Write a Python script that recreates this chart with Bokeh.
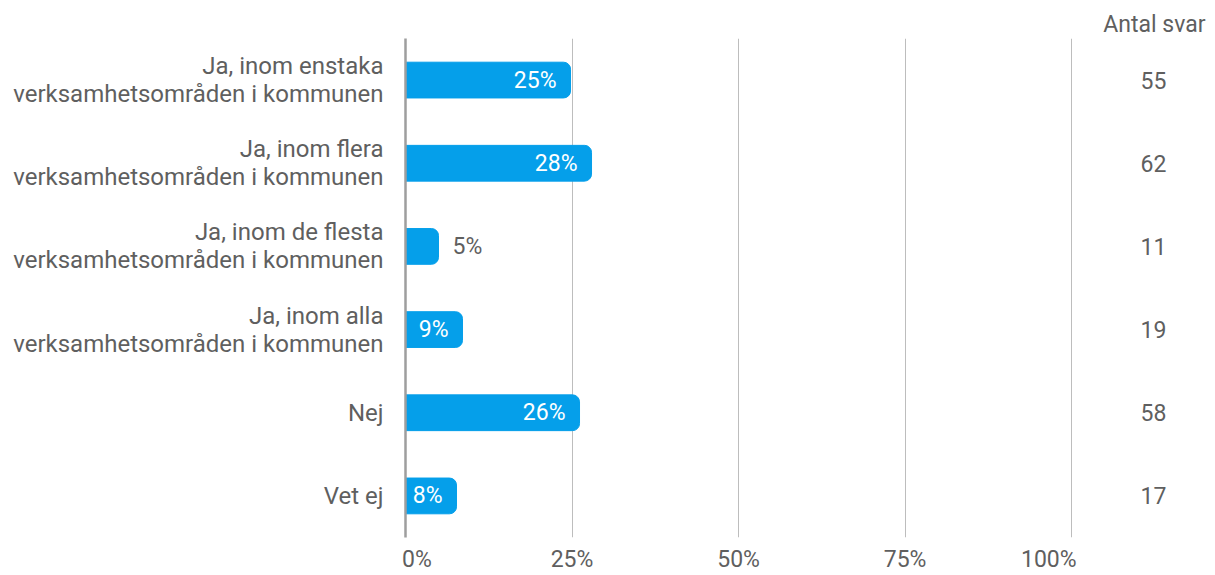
from bokeh.plotting import figure
from bokeh.models import ColumnDataSource, FixedTicker
from bokeh.core.properties import value
from bokeh.embed import file_html
from bokeh.resources import INLINE

categories = [
    "Ja, inom enstaka\nverksamhetsområden i kommunen",
    "Ja, inom flera\nverksamhetsområden i kommunen",
    "Ja, inom de flesta\nverksamhetsområden i kommunen",
    "Ja, inom alla\nverksamhetsområden i kommunen",
    "Nej",
    "Vet ej",
]
counts = [55, 62, 11, 19, 58, 17]
x_ticks = [0, 25, 50, 75, 100]
x_tick_labels = ["\u00a0\u00a0\u00a0\u00a00%", "25%", "50%", "75%",
                 "100%\u00a0\u00a0\u00a0\u00a0\u00a0\u00a0\u00a0\u00a0"]
count_header = "Antal svar"

total = sum(counts)
pct = [c / total * 100 for c in counts]
ys = list(range(len(categories)))
labels = [f"{round(v)}%" for v in pct]
inside = [v >= 7 for v in pct]

FONT = "Roboto"
FS = "23px"
TXT = "#5f5f5f"
BAR = "#059FEA"

p = figure(width=1215, height=575, output_backend="svg", toolbar_location=None,
           x_range=(0, 120.1), y_range=(5.5, -0.5),
           min_border_left=405, min_border_top=38, min_border_bottom=0, min_border_right=10)
p.outline_line_color = None
p.background_fill_color = "white"

p.title.text = count_header
p.title.align = "right"
p.title.text_font = FONT
p.title.text_font_size = FS
p.title.text_font_style = "normal"
p.title.text_color = TXT
p.title.standoff = 2

src = ColumnDataSource(dict(y=ys, right=pct, lab=labels, cnt=[str(c) for c in counts]))
p.hbar(y="y", left=0, right="right", height=0.43, source=src, color=BAR,
       border_radius=(0, 7, 7, 0))

in_src = ColumnDataSource(dict(y=[y for y, i in zip(ys, inside) if i],
                               x=[v for v, i in zip(pct, inside) if i],
                               t=[l for l, i in zip(labels, inside) if i]))
out_src = ColumnDataSource(dict(y=[y for y, i in zip(ys, inside) if not i],
                                x=[v for v, i in zip(pct, inside) if not i],
                                t=[l for l, i in zip(labels, inside) if not i]))
p.text(x="x", y="y", text="t", source=in_src, x_offset=-14, text_align="right",
       text_baseline="middle", text_color="white", text_font=value(FONT), text_font_size=FS)
p.text(x="x", y="y", text="t", source=out_src, x_offset=14, text_align="left",
       text_baseline="middle", text_color=TXT, text_font=value(FONT), text_font_size=FS)

cnt_x = 112.3
p.text(x=cnt_x, y="y", text="cnt", source=src, text_align="center", text_baseline="middle",
       text_color=TXT, text_font=value(FONT), text_font_size=FS)

p.xaxis.ticker = FixedTicker(ticks=x_ticks)
p.xaxis.major_label_overrides = {t: l for t, l in zip(x_ticks, x_tick_labels)}
p.xaxis.axis_line_color = None
p.xaxis.major_tick_line_color = None
p.xaxis.minor_tick_line_color = None
p.xaxis.major_label_standoff = 2
p.xaxis.major_label_text_font = FONT
p.xaxis.major_label_text_font_size = FS
p.xaxis.major_label_text_color = TXT

p.xgrid.ticker = FixedTicker(ticks=x_ticks)
p.xgrid.grid_line_color = "#bdbdbd"
p.xgrid.grid_line_width = 1
p.ygrid.grid_line_color = None

p.yaxis.ticker = FixedTicker(ticks=ys)
p.yaxis.major_label_overrides = {y: c for y, c in zip(ys, categories)}
p.yaxis.axis_line_color = "#9e9e9e"
p.yaxis.axis_line_width = 2.5
p.yaxis.major_tick_line_color = None
p.yaxis.minor_tick_line_color = None
p.yaxis.major_label_standoff = 16
p.yaxis.major_label_text_font = FONT
p.yaxis.major_label_text_font_size = "24px"
p.yaxis.major_label_text_color = TXT
p.yaxis.major_label_text_line_height = 1.0

open("out.html", "w").write(file_html(p, INLINE))
